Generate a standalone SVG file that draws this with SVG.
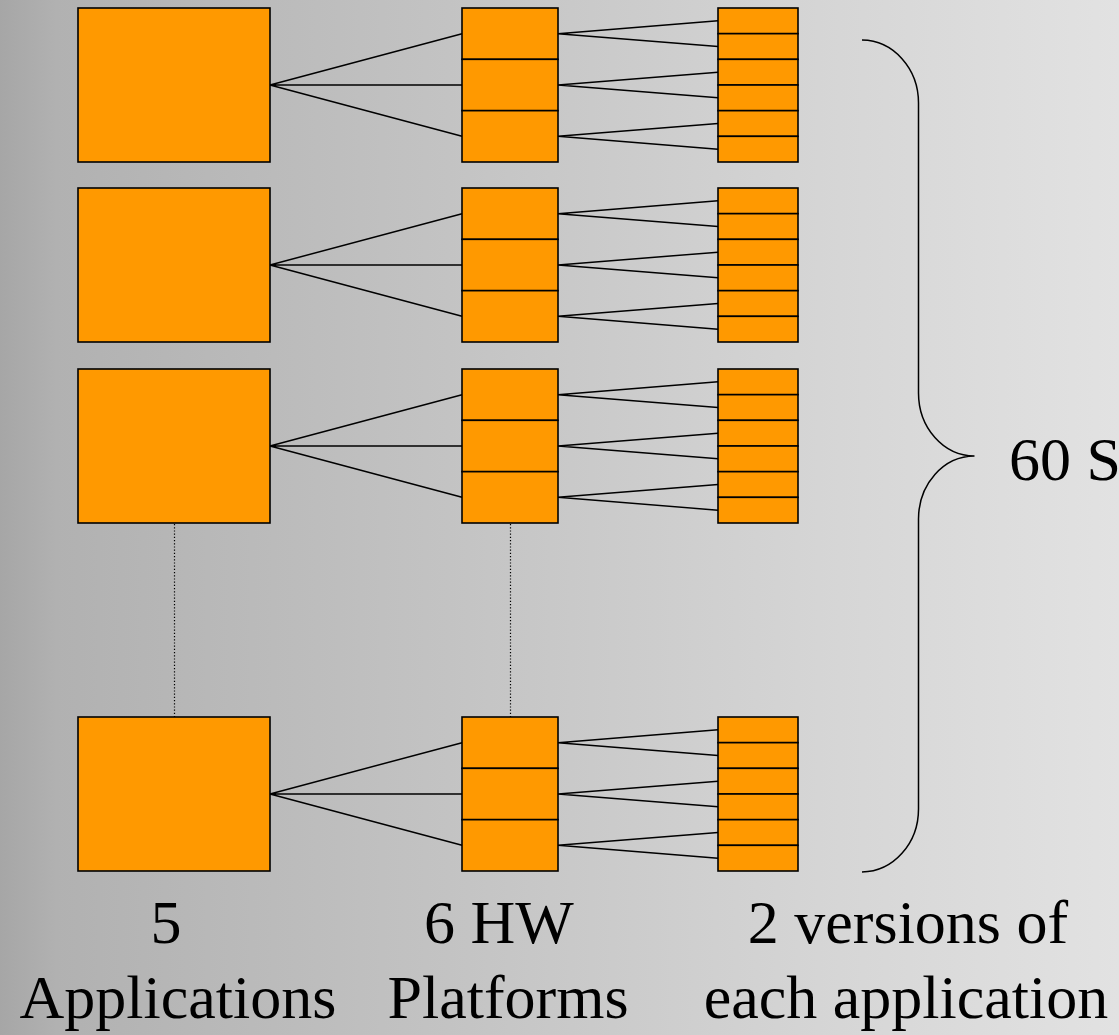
<svg xmlns="http://www.w3.org/2000/svg" width="1119" height="1035" viewBox="0 0 1119 1035">
<style>
.box{fill:#FF9900;stroke:#000;stroke-width:1.6}
.ln{stroke:#000;stroke-width:1.5;fill:none}
.dot{stroke:#000;stroke-width:1.2;stroke-dasharray:1.2 2;fill:none}
.t{font-family:"Liberation Serif","Times New Roman",serif;font-size:62px;fill:#000;text-anchor:middle}
</style>
<defs>
<linearGradient id="bg" x1="0" y1="0" x2="1" y2="0">
<stop offset="0" stop-color="#a6a6a6"/>
<stop offset="0.05" stop-color="#b1b1b1"/>
<stop offset="0.4" stop-color="#c3c3c3"/>
<stop offset="0.75" stop-color="#d6d6d6"/>
<stop offset="1" stop-color="#e2e2e2"/>
</linearGradient>
<g id="plat">
<rect class="box" x="462" y="0" width="96" height="51.33"/>
<rect class="box" x="462" y="51.33" width="96" height="51.33"/>
<rect class="box" x="462" y="102.67" width="96" height="51.33"/>
</g>
<g id="ver">
<rect class="box" x="718" y="0" width="80" height="25.67"/>
<rect class="box" x="718" y="25.67" width="80" height="25.67"/>
<rect class="box" x="718" y="51.33" width="80" height="25.67"/>
<rect class="box" x="718" y="77" width="80" height="25.67"/>
<rect class="box" x="718" y="102.67" width="80" height="25.67"/>
<rect class="box" x="718" y="128.33" width="80" height="25.67"/>
</g>
<g id="links">
<path class="ln" d="M270,77 L462,25.67 M270,77 L462,77 M270,77 L462,128.33"/>
<path class="ln" d="M558,25.67 L718,12.83 M558,25.67 L718,38.5 M558,77 L718,64.17 M558,77 L718,89.83 M558,128.33 L718,115.5 M558,128.33 L718,141.17"/>
</g>
</defs>
<rect x="0" y="0" width="1119" height="1035" fill="url(#bg)"/>

<g id="connectors">
<use href="#links" transform="translate(0,8)"/>
<use href="#links" transform="translate(0,188)"/>
<use href="#links" transform="translate(0,369)"/>
<use href="#links" transform="translate(0,717)"/>
<line class="dot" x1="174.5" y1="524" x2="174.5" y2="717"/>
<line class="dot" x1="510.5" y1="524" x2="510.5" y2="717"/>
</g>

<g id="app1"><rect class="box" x="78" y="8" width="192" height="154"/></g>
<g id="app2"><rect class="box" x="78" y="188" width="192" height="154"/></g>
<g id="app3"><rect class="box" x="78" y="369" width="192" height="154"/></g>
<g id="app5"><rect class="box" x="78" y="717" width="192" height="154"/></g>

<g id="platforms1"><use href="#plat" transform="translate(0,8)"/></g>
<g id="platforms2"><use href="#plat" transform="translate(0,188)"/></g>
<g id="platforms3"><use href="#plat" transform="translate(0,369)"/></g>
<g id="platforms5"><use href="#plat" transform="translate(0,717)"/></g>

<g id="versions1"><use href="#ver" transform="translate(0,8)"/></g>
<g id="versions2"><use href="#ver" transform="translate(0,188)"/></g>
<g id="versions3"><use href="#ver" transform="translate(0,369)"/></g>
<g id="versions5"><use href="#ver" transform="translate(0,717)"/></g>

<g id="brace">
<path class="ln" stroke-width="1.4" d="M862,40 A57,63 0 0 1 918.5,103 L918.5,393 A56,63 0 0 0 974.5,456 A56,63 0 0 0 918.5,519 L918.5,809 A57,63 0 0 1 862,872"/>
</g>

<g id="labels">
<text class="t" x="1009" y="480" style="text-anchor:start">60 S</text>
<text class="t" x="166" y="943">5</text>
<text class="t" x="178" y="1018">Applications</text>
<text class="t" x="499" y="943">6 HW</text>
<text class="t" x="508" y="1018">Platforms</text>
<text class="t" x="908" y="943">2 versions of</text>
<text class="t" x="906" y="1018">each application</text>
</g>
</svg>
